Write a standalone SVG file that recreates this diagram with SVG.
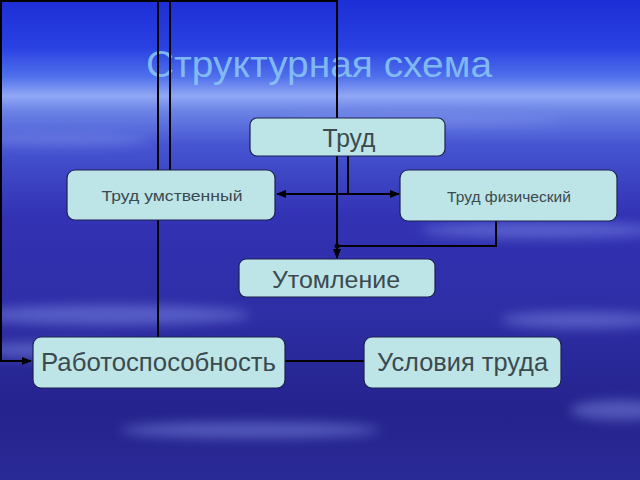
<svg xmlns="http://www.w3.org/2000/svg" width="640" height="480" viewBox="0 0 640 480">
<defs>
<linearGradient id="bg" x1="0" y1="0" x2="0" y2="1">
<stop offset="0" stop-color="#1d2ed6"/>
<stop offset="0.1" stop-color="#2a42e2"/>
<stop offset="0.16" stop-color="#5070ec"/>
<stop offset="0.2" stop-color="#90a8f4"/>
<stop offset="0.23" stop-color="#6c84e6"/>
<stop offset="0.3" stop-color="#4656d2"/>
<stop offset="0.45" stop-color="#3232b4"/>
<stop offset="0.65" stop-color="#2e2ea6"/>
<stop offset="0.85" stop-color="#25238d"/>
<stop offset="1" stop-color="#2a2a96"/>
</linearGradient>
<filter id="blur" x="-50%" y="-50%" width="200%" height="200%"><feGaussianBlur stdDeviation="6"/></filter>
<marker id="arr" markerWidth="10" markerHeight="8" refX="9" refY="4" orient="auto" markerUnits="userSpaceOnUse">
<path d="M0,0 L10,4 L0,8 Z" fill="#000"/>
</marker>
<style>
.box{fill:#bde4e6;stroke:#1c2050;stroke-width:1.2}
.t{font-family:"Liberation Sans",Arial,sans-serif;fill:#3b4a4f;text-anchor:middle}
.c{fill:none;stroke:#000;stroke-width:2}
</style>
</defs>
<rect width="640" height="480" fill="url(#bg)"/>
<g filter="url(#blur)" fill="#8a9af0" opacity="0.45">
<ellipse cx="60" cy="140" rx="90" ry="6"/>
<ellipse cx="540" cy="230" rx="120" ry="8"/>
<ellipse cx="110" cy="315" rx="140" ry="10"/>
<ellipse cx="60" cy="350" rx="90" ry="8"/>
<ellipse cx="580" cy="320" rx="80" ry="8"/>
<ellipse cx="250" cy="430" rx="130" ry="8"/>
<ellipse cx="620" cy="410" rx="50" ry="10"/>
<ellipse cx="420" cy="120" rx="140" ry="5"/>
</g>
<text x="319" y="77" font-family="Liberation Sans, Arial, sans-serif" font-size="36" fill="#8ccaf4" fill-opacity="0.85" text-anchor="middle" textLength="346" lengthAdjust="spacingAndGlyphs">Структурная схема</text>
<g id="connectors">
<polyline class="c" points="170,170 170,1 1,1 1,361 31,361" marker-end="url(#arr)"/>
<line class="c" x1="158" y1="1" x2="158" y2="337"/>
<polyline class="c" points="1,1 337,1 337,258" marker-end="url(#arr)"/>
<line class="c" x1="348" y1="156" x2="348" y2="194"/>
<line class="c" x1="337" y1="194" x2="277" y2="194" marker-end="url(#arr)"/>
<line class="c" x1="337" y1="194" x2="399" y2="194" marker-end="url(#arr)"/>
<polyline class="c" points="496,221 496,246 337,246"/>
<circle cx="337" cy="246" r="2.5" fill="#000"/>
<line class="c" x1="285" y1="361" x2="364" y2="361"/>
</g>
<g id="n-trud"><rect class="box" x="250" y="118" width="195" height="38" rx="7"/><text class="t" x="349" y="147" font-size="25" textLength="53" lengthAdjust="spacingAndGlyphs">Труд</text></g>
<g id="n-umstv"><rect class="box" x="67" y="170" width="208" height="50" rx="8"/><text class="t" x="172" y="201" font-size="15.5" textLength="141" lengthAdjust="spacingAndGlyphs">Труд умственный</text></g>
<g id="n-fiz"><rect class="box" x="400" y="170" width="217" height="51" rx="8"/><text class="t" x="509" y="202" font-size="15.5" textLength="124" lengthAdjust="spacingAndGlyphs">Труд физический</text></g>
<g id="n-utoml"><rect class="box" x="239" y="259" width="196" height="38" rx="7"/><text class="t" x="336" y="288" font-size="23" textLength="128" lengthAdjust="spacingAndGlyphs">Утомление</text></g>
<g id="n-rabot"><rect class="box" x="33" y="337" width="252" height="51" rx="8"/><text class="t" x="158.5" y="371" font-size="25" textLength="235" lengthAdjust="spacingAndGlyphs">Работоспособность</text></g>
<g id="n-uslov"><rect class="box" x="364" y="337" width="197" height="51" rx="8"/><text class="t" x="462.5" y="371" font-size="25" textLength="171" lengthAdjust="spacingAndGlyphs">Условия труда</text></g>
</svg>
